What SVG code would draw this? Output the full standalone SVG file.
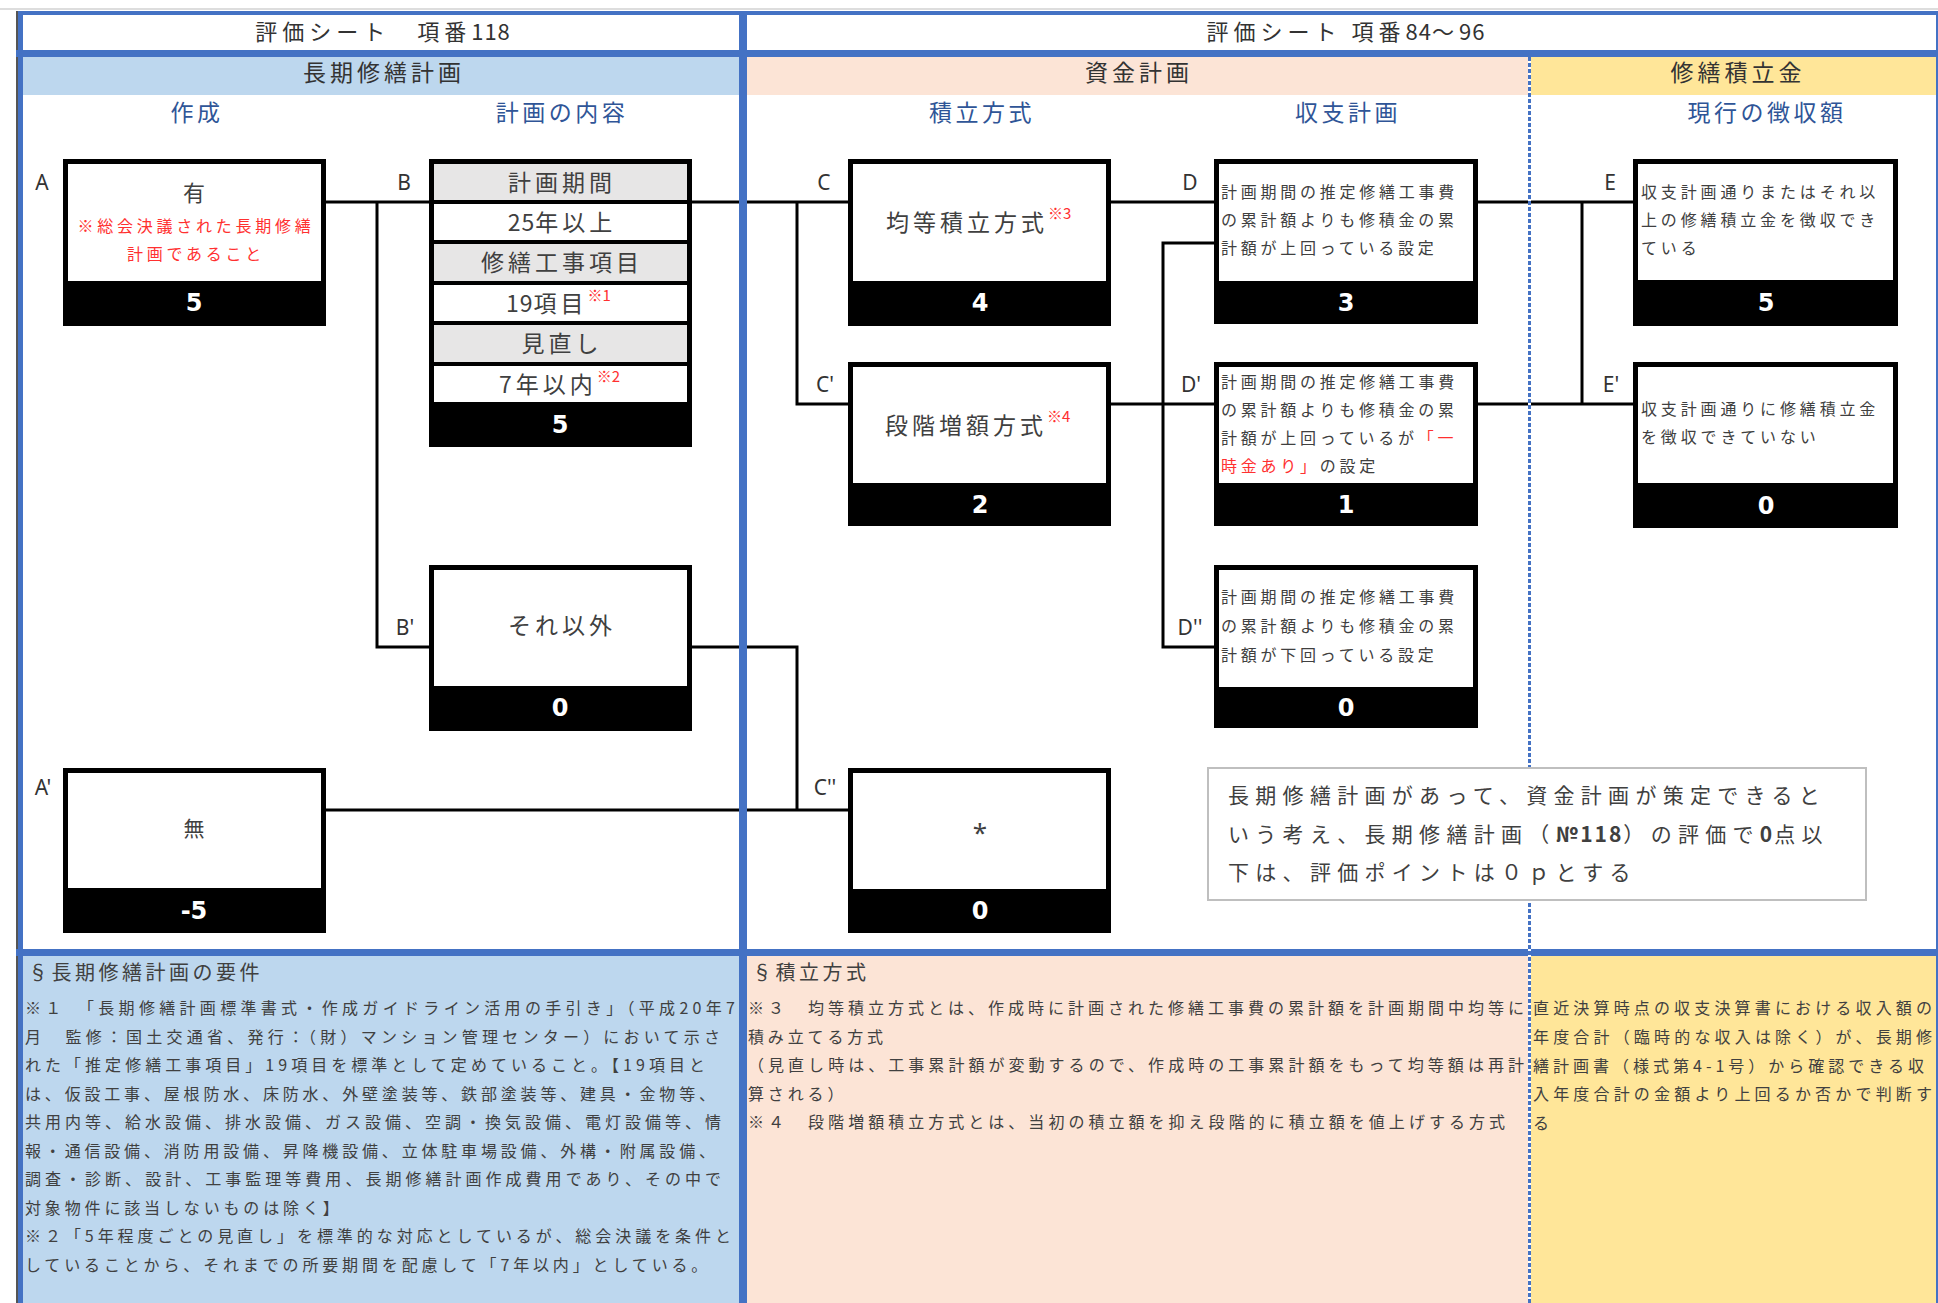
<svg xmlns="http://www.w3.org/2000/svg" width="1938" height="1303" viewBox="0 0 1938 1303">
<defs>
<style>
text { font-family: "Noto Sans CJK JP", "Noto Sans", sans-serif; dominant-baseline: central; }
.hdr { font-size: 22px; fill: #333; letter-spacing: 5px; text-anchor: middle; }
.band { font-size: 23px; fill: #333; letter-spacing: 4px; text-anchor: middle; }
.sub { font-size: 23px; fill: #2F5597; letter-spacing: 3.5px; text-anchor: middle; }
.lbl { font-family: "Noto Sans", "DejaVu Sans", sans-serif; font-size: 21px; fill: #333; text-anchor: middle; }
.num { font-family: "DejaVu Sans", "Noto Sans", sans-serif; font-weight: bold; font-size: 24px; fill: #fff; text-anchor: middle; }
.main { font-size: 23px; fill: #404040; letter-spacing: 4px; }
.mid { text-anchor: middle; }
.dig { letter-spacing: 1px; }
.small { font-size: 16px; fill: #404040; letter-spacing: 3.75px; }
.red { fill: #FF3030; }
.sup { font-size: 15px; fill: #FF3030; letter-spacing: 0; }
.note { font-size: 16px; fill: #404040; }
.ttl { font-size: 20px; fill: #404040; letter-spacing: 3.5px; }
.memo { font-size: 21px; fill: #404040; letter-spacing: 6.3px; }
.bold { font-weight: bold; letter-spacing: 2px; }
.conn { stroke: #000; stroke-width: 3; fill: none; stroke-linejoin: miter; }
.frame { fill: #4472C4; }
.outer { fill: #000; }
.inner { fill: #fff; }
.gray { fill: #E7E6E6; }
</style>
</defs>

<!-- background -->
<rect x="0" y="0" width="1938" height="1303" fill="#fff"/>
<rect x="0" y="8.5" width="1938" height="1" fill="#bbb"/>
<!-- header bands -->
<rect x="23" y="57" width="716" height="38" fill="#BDD7EE"/>
<rect x="747" y="57" width="782" height="38" fill="#FCE4D6"/>
<rect x="1529" y="57" width="407" height="38" fill="#FFE699"/>
<!-- notes backgrounds -->
<rect x="23" y="956" width="716" height="347" fill="#BDD7EE"/>
<rect x="747" y="956" width="782" height="347" fill="#FCE4D6"/>
<rect x="1529" y="956" width="407" height="347" fill="#FFE699"/>

<!-- connectors -->
<g id="connectors">
<path class="conn" d="M326,202 H429"/>
<path class="conn" d="M377,202 V647 H429"/>
<path class="conn" d="M692,202 H848"/>
<path class="conn" d="M797,202 V404 H848"/>
<path class="conn" d="M692,647 H797 V810"/>
<path class="conn" d="M326,810 H848"/>
<path class="conn" d="M1111,202 H1214"/>
<path class="conn" d="M1111,404 H1214"/>
<path class="conn" d="M1214,243 H1163 V647 H1214"/>
<path class="conn" d="M1478,202 H1633"/>
<path class="conn" d="M1582,202 V404"/>
<path class="conn" d="M1478,404 H1633"/>
</g>

<!-- frame lines -->
<g id="frame">
<rect class="frame" x="16" y="11" width="1922" height="4"/>
<rect x="16" y="11" width="2" height="1292" fill="#555"/>
<rect class="frame" x="18" y="11" width="5" height="1292"/>
<rect class="frame" x="739" y="11" width="8" height="1292"/>
<rect class="frame" x="1936" y="11" width="2" height="1292"/>
<rect class="frame" x="16" y="50" width="1922" height="7"/>
<rect class="frame" x="16" y="949" width="1922" height="7"/>
<line x1="1529.5" y1="57" x2="1529.5" y2="1303" stroke="#fff" stroke-width="3"/>
<line x1="1529.5" y1="57" x2="1529.5" y2="1303" stroke="#4472C4" stroke-width="3" stroke-dasharray="4 2"/>
</g>

<!-- headers -->
<g id="headers">
<text class="hdr" x="383" y="30">評価シート　項番<tspan class="dig">118</tspan></text>
<text class="hdr" x="1346" y="30">評価シート 項番<tspan class="dig">84</tspan>～<tspan class="dig">96</tspan></text>
<text class="band" x="384" y="71">長期修繕計画</text>
<text class="band" x="1139" y="71">資金計画</text>
<text class="band" x="1738" y="71">修繕積立金</text>
<text class="sub" x="197" y="111">作成</text>
<text class="sub" x="562" y="111">計画の内容</text>
<text class="sub" x="982" y="111">積立方式</text>
<text class="sub" x="1348" y="111">収支計画</text>
<text class="sub" x="1767" y="111">現行の徴収額</text>
</g>

<!-- node A -->
<g id="node-A">
<rect class="outer" x="63" y="159" width="263" height="167"/>
<rect class="inner" x="68" y="164" width="253" height="117"/>
<text class="main mid" x="196" y="191" style="font-size:22px">有</text>
<text class="small red mid" x="196" y="225">※総会決議された長期修繕</text>
<text class="small red mid" x="196" y="253">計画であること</text>
<text class="num" x="194" y="303">5</text>
<text class="lbl" x="42" y="182">A</text>
</g>

<!-- node A' -->
<g id="node-A2">
<rect class="outer" x="63" y="768" width="263" height="165"/>
<rect class="inner" x="68" y="773" width="253" height="115"/>
<text class="main mid" x="196" y="827" style="font-size:21px">無</text>
<text class="num" x="194" y="911">-5</text>
<text class="lbl" x="43" y="787">A'</text>
</g>

<!-- node B -->
<g id="node-B">
<rect class="outer" x="429" y="159" width="263" height="288"/>
<rect class="gray" x="434" y="164" width="253" height="36"/>
<rect class="inner" x="434" y="204" width="253" height="36"/>
<rect class="gray" x="434" y="244" width="253" height="37"/>
<rect class="inner" x="434" y="285" width="253" height="36"/>
<rect class="gray" x="434" y="325" width="253" height="37"/>
<rect class="inner" x="434" y="366" width="253" height="36"/>
<text class="main mid" x="562" y="181">計画期間</text>
<text class="main mid" x="562" y="221"><tspan class="dig">25</tspan>年以上</text>
<text class="main mid" x="562" y="261">修繕工事項目</text>
<text class="main" x="506" y="302"><tspan class="dig">19</tspan>項目<tspan class="sup" dy="-8">※1</tspan></text>
<text class="main mid" x="562" y="342">見直し</text>
<text class="main" x="499" y="383">7年以内<tspan class="sup" dy="-8">※2</tspan></text>
<text class="num" x="560" y="425">5</text>
<text class="lbl" x="404" y="182">B</text>
</g>

<!-- node B' -->
<g id="node-B2">
<rect class="outer" x="429" y="565" width="263" height="166"/>
<rect class="inner" x="434" y="570" width="253" height="116"/>
<text class="main mid" x="562" y="624">それ以外</text>
<text class="num" x="560" y="708">0</text>
<text class="lbl" x="405" y="627">B'</text>
</g>

<!-- node C -->
<g id="node-C">
<rect class="outer" x="848" y="159" width="263" height="167"/>
<rect class="inner" x="853" y="164" width="253" height="117"/>
<text class="main" x="886" y="221">均等積立方式<tspan class="sup" dy="-9">※3</tspan></text>
<text class="num" x="980" y="303">4</text>
<text class="lbl" x="824" y="182">C</text>
</g>

<!-- node C' -->
<g id="node-C2">
<rect class="outer" x="848" y="362" width="263" height="164"/>
<rect class="inner" x="853" y="367" width="253" height="116"/>
<text class="main" x="885" y="424">段階増額方式<tspan class="sup" dy="-9">※4</tspan></text>
<text class="num" x="980" y="505">2</text>
<text class="lbl" x="825" y="384">C'</text>
</g>

<!-- node C'' -->
<g id="node-C3">
<rect class="outer" x="848" y="768" width="263" height="165"/>
<rect class="inner" x="853" y="773" width="253" height="116"/>
<text x="980" y="842" style="font-family:'Noto Sans',sans-serif;font-size:26px;fill:#404040;text-anchor:middle;dominant-baseline:auto">*</text>
<text class="num" x="980" y="911">0</text>
<text class="lbl" x="825" y="787">C''</text>
</g>

<!-- node D -->
<g id="node-D">
<rect class="outer" x="1214" y="159" width="264" height="165"/>
<rect class="inner" x="1219" y="164" width="254" height="117"/>
<text class="small" x="1221" y="191">計画期間の推定修繕工事費</text>
<text class="small" x="1221" y="219">の累計額よりも修積金の累</text>
<text class="small" x="1221" y="247">計額が上回っている設定</text>
<text class="num" x="1346" y="303">3</text>
<text class="lbl" x="1190" y="182">D</text>
</g>

<!-- node D' -->
<g id="node-D2">
<rect class="outer" x="1214" y="362" width="264" height="164"/>
<rect class="inner" x="1219" y="367" width="254" height="116"/>
<text class="small" x="1221" y="381">計画期間の推定修繕工事費</text>
<text class="small" x="1221" y="409">の累計額よりも修積金の累</text>
<text class="small" x="1221" y="437">計額が上回っているが<tspan class="red">「一</tspan></text>
<text class="small" x="1221" y="465"><tspan class="red">時金あり」</tspan>の設定</text>
<text class="num" x="1346" y="505">1</text>
<text class="lbl" x="1191" y="384">D'</text>
</g>

<!-- node D'' -->
<g id="node-D3">
<rect class="outer" x="1214" y="565" width="264" height="163"/>
<rect class="inner" x="1219" y="570" width="254" height="117"/>
<text class="small" x="1221" y="596">計画期間の推定修繕工事費</text>
<text class="small" x="1221" y="625">の累計額よりも修積金の累</text>
<text class="small" x="1221" y="654">計額が下回っている設定</text>
<text class="num" x="1346" y="708">0</text>
<text class="lbl" x="1190" y="627">D''</text>
</g>

<!-- node E -->
<g id="node-E">
<rect class="outer" x="1633" y="159" width="265" height="167"/>
<rect class="inner" x="1638" y="164" width="255" height="116"/>
<text class="small" x="1641" y="191" style="letter-spacing:3.85px">収支計画通りまたはそれ以</text>
<text class="small" x="1641" y="219" style="letter-spacing:3.85px">上の修繕積立金を徴収でき</text>
<text class="small" x="1641" y="247" style="letter-spacing:3.85px">ている</text>
<text class="num" x="1766" y="303">5</text>
<text class="lbl" x="1610" y="182">E</text>
</g>

<!-- node E' -->
<g id="node-E2">
<rect class="outer" x="1633" y="362" width="265" height="166"/>
<rect class="inner" x="1638" y="367" width="255" height="116"/>
<text class="small" x="1641" y="408" style="letter-spacing:3.85px">収支計画通りに修繕積立金</text>
<text class="small" x="1641" y="436" style="letter-spacing:3.85px">を徴収できていない</text>
<text class="num" x="1766" y="506">0</text>
<text class="lbl" x="1611" y="384">E'</text>
</g>

<!-- memo box -->
<g id="memo">
<rect x="1208" y="768" width="658" height="132" fill="#fff" stroke="#BFBFBF" stroke-width="2"/>
<text class="memo" x="1228" y="794">長期修繕計画があって、資金計画が策定できると</text>
<text class="memo" x="1228" y="833">いう考え、長期修繕計画（<tspan class="bold">№118</tspan>）の評価で<tspan class="bold">0</tspan>点以</text>
<text class="memo" x="1228" y="871">下は、評価ポイントは０ｐとする</text>
</g>

<!-- notes -->
<g id="notes-left">
<text class="ttl" x="28" y="971">§長期修繕計画の要件</text>
<text class="note" x="25" y="1007" textLength="710" lengthAdjust="spacing">※１　「長期修繕計画標準書式・作成ガイドライン活用の手引き」（平成20年7</text>
<text class="note" x="25" y="1035.5" textLength="695" lengthAdjust="spacing">月　監修：国土交通省、発行：（財）マンション管理センター）において示さ</text>
<text class="note" x="25" y="1064" textLength="680" lengthAdjust="spacing">れた「推定修繕工事項目」19項目を標準として定めていること。【19項目と</text>
<text class="note" x="25" y="1092.5" textLength="690" lengthAdjust="spacing">は、仮設工事、屋根防水、床防水、外壁塗装等、鉄部塗装等、建具・金物等、</text>
<text class="note" x="25" y="1121" textLength="696" lengthAdjust="spacing">共用内等、給水設備、排水設備、ガス設備、空調・換気設備、電灯設備等、情</text>
<text class="note" x="25" y="1149.5" textLength="690" lengthAdjust="spacing">報・通信設備、消防用設備、昇降機設備、立体駐車場設備、外構・附属設備、</text>
<text class="note" x="25" y="1178" textLength="696" lengthAdjust="spacing">調査・診断、設計、工事監理等費用、長期修繕計画作成費用であり、その中で</text>
<text class="note" x="25" y="1206.5" style="letter-spacing:3.85px">対象物件に該当しないものは除く】</text>
<text class="note" x="25" y="1235" textLength="706" lengthAdjust="spacing">※２「5年程度ごとの見直し」を標準的な対応としているが、総会決議を条件と</text>
<text class="note" x="25" y="1263.5" style="letter-spacing:3.85px">していることから、それまでの所要期間を配慮して「7年以内」としている。</text>
</g>

<g id="notes-middle">
<text class="ttl" x="752" y="971">§積立方式</text>
<text class="note" x="748" y="1007" textLength="776" lengthAdjust="spacing">※３　均等積立方式とは、作成時に計画された修繕工事費の累計額を計画期間中均等に</text>
<text class="note" x="748" y="1035.5" style="letter-spacing:3.85px">積み立てる方式</text>
<text class="note" x="748" y="1064" textLength="776" lengthAdjust="spacing">（見直し時は、工事累計額が変動するので、作成時の工事累計額をもって均等額は再計</text>
<text class="note" x="748" y="1092.5" style="letter-spacing:3.85px">算される）</text>
<text class="note" x="748" y="1121" textLength="757" lengthAdjust="spacing">※４　段階増額積立方式とは、当初の積立額を抑え段階的に積立額を値上げする方式</text>
</g>

<g id="notes-right">
<text class="note" x="1533" y="1007" textLength="399" lengthAdjust="spacing">直近決算時点の収支決算書における収入額の</text>
<text class="note" x="1533" y="1036" textLength="399" lengthAdjust="spacing">年度合計（臨時的な収入は除く）が、長期修</text>
<text class="note" x="1533" y="1065" textLength="391" lengthAdjust="spacing">繕計画書（様式第4-1号）から確認できる収</text>
<text class="note" x="1533" y="1093" textLength="399" lengthAdjust="spacing">入年度合計の金額より上回るか否かで判断す</text>
<text class="note" x="1533" y="1122">る</text>
</g>
</svg>
